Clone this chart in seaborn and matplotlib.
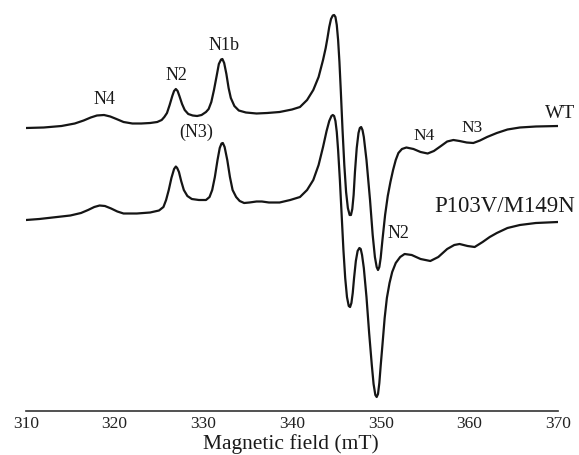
import numpy as np
import pandas as pd
import matplotlib
matplotlib.use("Agg")
import matplotlib.pyplot as plt
import seaborn as sns

# ---- data (field in mT, intensity in arbitrary units) ----
wt_field = [310.0, 312.0, 314.0, 315.5, 316.5, 317.3, 318.0, 318.8, 319.5, 320.2,
            321.0, 322.0, 323.0, 324.0, 324.8, 325.3, 325.6, 325.9, 326.2, 326.5,
            326.7, 326.9, 327.1, 327.3, 327.6, 327.9, 328.3, 328.8, 329.3, 329.8,
            330.3, 330.6, 330.9, 331.2, 331.5, 331.75, 332.0, 332.15, 332.35, 332.6,
            332.85, 333.1, 333.5, 334.0, 334.8, 336.0, 337.2, 338.6, 340.0, 340.9,
            341.7, 342.4, 343.0, 343.5, 343.8, 344.0, 344.2, 344.4, 344.6, 344.75,
            344.9, 345.05, 345.2, 345.35, 345.5, 345.7, 345.9, 346.1, 346.3, 346.5,
            346.65, 346.8, 346.95, 347.1, 347.3, 347.5, 347.65, 347.8, 347.95, 348.1,
            348.4, 348.8, 349.1, 349.35, 349.55, 349.7, 349.85, 350.0, 350.2, 350.5,
            350.8, 351.1, 351.4, 351.7, 352.0, 352.4, 352.9, 353.7, 354.5, 355.3,
            356.0, 356.8, 357.5, 358.2, 358.9, 359.7, 360.45, 361.2, 362.0, 363.1,
            364.3, 365.7, 367.5, 370.0]
wt_signal = [283, 283.5, 285, 287.5, 290.5, 293.5, 295.5, 296, 294.5, 292,
             289, 287.5, 287.5, 288, 289, 291, 294, 298, 306, 315,
             320, 322, 320, 315, 307, 301, 297, 295.5, 295, 296,
             299, 302, 309, 321, 335, 347, 351.5, 352, 348, 337,
             323, 313, 305, 300.5, 298.5, 297.5, 298, 299, 301.5, 304,
             311, 321, 334, 351, 363, 373, 384, 392, 395.5, 396,
             394, 386, 371, 349, 321, 281, 246, 219, 203, 196,
             196, 202, 216, 239, 263, 278, 283, 284, 281, 274,
             251, 211, 176, 154, 144, 141, 144, 153, 171, 196,
             215, 229, 241, 251, 258, 262, 263.5, 262, 259, 257.5,
             260, 265, 269.5, 271, 270, 268.5, 268, 270.5, 274, 278,
             281.5, 283.5, 284.5, 285]

mut_field = [310.0, 311.5, 313.5, 315.0, 316.2, 317.0, 317.7, 318.3, 318.9, 319.6,
             320.3, 321.0, 322.5, 324.0, 325.0, 325.5, 325.8, 326.1, 326.4, 326.7,
             326.9, 327.05, 327.25, 327.5, 327.8, 328.2, 328.7, 329.5, 330.3, 330.7,
             331.0, 331.3, 331.6, 331.85, 332.05, 332.2, 332.4, 332.7, 333.0, 333.3,
             333.7, 334.1, 334.6, 335.2, 336.0, 336.6, 337.4, 338.6, 339.8, 340.9,
             341.7, 342.4, 343.0, 343.5, 343.9, 344.2, 344.45, 344.6, 344.75, 344.9,
             345.05, 345.2, 345.4, 345.6, 345.8, 346.0, 346.2, 346.4, 346.55, 346.7,
             346.85, 347.0, 347.2, 347.4, 347.6, 347.75, 347.9, 348.1, 348.4, 348.7,
             349.0, 349.2, 349.4, 349.55, 349.7, 349.85, 350.0, 350.2, 350.45, 350.7,
             351.0, 351.3, 351.7, 352.2, 352.7, 353.5, 354.5, 355.6, 356.5, 357.5,
             358.3, 358.9, 359.8, 360.6, 361.5, 362.3, 363.1, 364.3, 365.7, 367.5,
             370.0]
mut_signal = [191, 192, 194, 195.5, 198, 201, 204, 205.5, 205, 202.5,
              199.5, 197.5, 197.5, 198.5, 200.5, 204, 211, 221, 233, 242,
              244.5, 243, 239, 230, 221, 215, 212, 211, 211, 214,
              221, 234, 251, 263, 267.5, 268, 264, 251, 234, 221,
              214, 210, 208, 208.5, 209.5, 209.5, 208.5, 208.5, 211, 214,
              221, 231, 246, 264, 280, 290, 295, 296, 295, 290,
              279, 261, 231, 196, 161, 133, 114, 105, 104, 108,
              118, 133, 150, 160, 163, 162, 156, 143, 114, 78,
              46, 27, 16, 14, 17, 28, 45, 66, 93, 113,
              128, 139, 148, 154, 157, 156, 152, 150, 154, 162,
              166, 167, 165, 164, 169, 174, 178, 183, 186, 188,
              189]

series_names = ["WT", "P103V/M149N"]
x_ticks = [310, 320, 330, 340, 350, 360, 370]

df = pd.concat([
    pd.DataFrame({"field": wt_field, "signal": wt_signal, "sample": series_names[0]}),
    pd.DataFrame({"field": mut_field, "signal": mut_signal, "sample": series_names[1]}),
], ignore_index=True)

sns.set_style("white")
plt.rcParams["font.family"] = ["Liberation Serif", "DejaVu Serif"]

fig = plt.figure(figsize=(5.79, 4.55), dpi=100)
ax = fig.add_axes([26 / 579, 44 / 455, 532 / 579, 411 / 455])

sns.lineplot(data=df, x="field", y="signal", units="sample", estimator=None,
             sort=False, color="#151515", linewidth=1.6, ax=ax, legend=False)
for ln in ax.get_lines():
    ln.set_solid_joinstyle("round")
    ln.set_solid_capstyle("round")

ax.set_xlim(310, 370)
ax.set_ylim(0, 411)
ax.set_xticks(x_ticks)
ax.set_xticklabels([str(t) for t in x_ticks], fontsize=12.5)
ax.set_yticks([])
ax.set_ylabel("")
ax.set_xlabel("")
for s in ["top", "left", "right"]:
    ax.spines[s].set_visible(False)
ax.spines["bottom"].set_color("#333333")
ax.spines["bottom"].set_linewidth(1.2)
ax.tick_params(axis="x", direction="in", length=4, width=1.0, pad=3.5, colors="#222222")

# axis title placed just below the tick labels, as in the reference
fig.text(291 / 579, 1 - 449 / 455, "Magnetic field (mT)", ha="center",
         va="baseline", fontsize=15.5, color="#1a1a1a")


def px(xp, yp):
    return 310 + (xp - 26) / (532 / 60), 411 - yp


labels = [
    ("N4", 104, 100, 13),
    ("N2", 176, 75, 13),
    ("N1b", 224, 46, 13),
    ("(N3)", 196, 132, 13),
    ("N4", 424, 136, 12.5),
    ("N3", 472, 128, 12.5),
    ("N2", 398, 234, 13),
    ("WT", 560, 114, 14),
    ("P103V/M149N", 505, 207, 16.5),
]
for txt, xp, yp, fs in labels:
    x, y = px(xp, yp)
    ax.text(x, y, txt, ha="center", va="center", fontsize=fs, color="#1a1a1a",
            clip_on=False)

fig.savefig("out.png", dpi=100)
